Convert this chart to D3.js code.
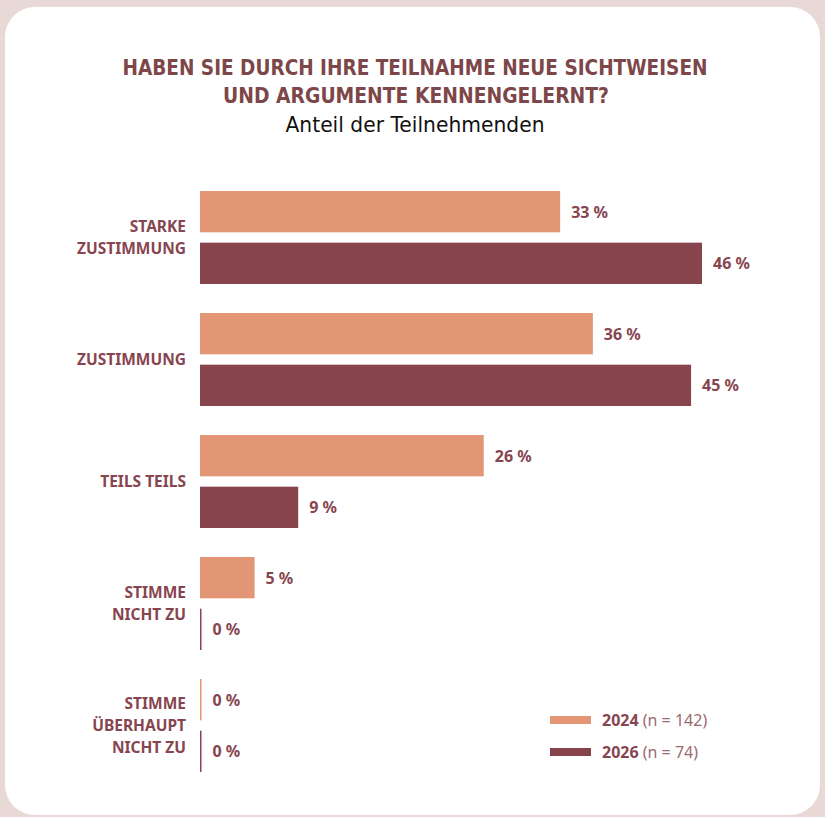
<!DOCTYPE html>
<html>
<head>
<meta charset="utf-8">
<script src="https://cdn.jsdelivr.net/npm/d3@7"></script>
<style>
  body { margin: 0; background: #e8d9d6; }
</style>
</head>
<body>
<div id="chart"></div>
<script>
// chart data
var categories = [["STARKE", "ZUSTIMMUNG"], ["ZUSTIMMUNG"], ["TEILS TEILS"], ["STIMME", "NICHT ZU"], ["STIMME", "ÜBERHAUPT", "NICHT ZU"]];
var values_2024 = [33, 36, 26, 5, 0];
var values_2026 = [46, 45, 9, 0, 0];
var series_names = ["2024", "2026"];
var series_n = ["(n = 142)", "(n = 74)"];

const total_width = 825
const total_height = 817
const colors = ["#e29676", "#87444d"]
const text_color = "#874550"

var svg = d3.select("#chart").append("svg").attr("width", total_width).attr("height", total_height);

// card
svg.append("rect").attr("x", 5).attr("y", 7).attr("width", 815).attr("height", 808).attr("rx", 30).attr("ry", 30).style("fill", "#ffffff");

// title (condensed look via textLength, no narrow font installed)
var title = svg.append("g").attr("text-anchor", "middle").style("font-family", "'DejaVu Sans', sans-serif").style("font-weight", "bold").style("font-size", "22px").style("fill", "#7d4649");
title.append("text").attr("x", 415).attr("y", 75).attr("textLength", 585).attr("lengthAdjust", "spacingAndGlyphs").text("HABEN SIE DURCH IHRE TEILNAHME NEUE SICHTWEISEN");
title.append("text").attr("x", 416).attr("y", 103).attr("textLength", 386).attr("lengthAdjust", "spacingAndGlyphs").text("UND ARGUMENTE KENNENGELERNT?");
svg.append("text").attr("text-anchor", "middle").attr("x", 415).attr("y", 132).attr("textLength", 259).attr("lengthAdjust", "spacingAndGlyphs")
  .style("font-family", "'DejaVu Sans', sans-serif").style("font-size", "21px").style("fill", "#111").text("Anteil der Teilnehmenden");

// scales
var x = d3.scaleLinear().domain([0, 46]).range([200, 702]);
var y = d3.scaleBand().domain(d3.range(categories.length)).range([186, 796]).paddingInner(0).paddingOuter(0);
var inner = d3.scaleBand().domain([0, 1]).range([5, 98]).paddingInner(0.2);

var groups = svg.selectAll(".group").data(categories).enter().append("g").attr("class", "group")
  .attr("transform", function(d, i) { return "translate(0," + y(i) + ")"; });

groups.each(function(cat, i) {
  var g = d3.select(this);
  var vals = [values_2024[i], values_2026[i]];
  vals.forEach(function(v, s) {
    var w = x(v) - x(0);
    g.append("rect").attr("x", x(0)).attr("y", inner(s)).attr("width", Math.max(w, 1.5)).attr("height", inner.bandwidth()).style("fill", colors[s]);
    g.append("text").attr("x", x(0) + Math.max(w, 1.5) + 11).attr("y", inner(s) + inner.bandwidth() / 2).attr("dy", "0.38em")
      .style("font-family", "'Noto Sans', sans-serif").style("font-weight", "bold").style("font-size", "16px").style("fill", text_color)
      .text(v + " %");
  });
  var mid = (inner(0) + inner(1) + inner.bandwidth()) / 2;
  var lab = g.append("text").attr("text-anchor", "end").style("font-family", "'Noto Sans', sans-serif").style("font-weight", "bold").style("font-size", "15.5px").style("fill", text_color);
  cat.forEach(function(line, k) {
    lab.append("tspan").attr("x", 186).attr("y", mid + (k - (cat.length - 1) / 2) * 22).attr("dy", "0.36em").text(line);
  });
});

// legend
var legend = svg.selectAll(".legend").data(series_names).enter().append("g").attr("class", "legend")
  .attr("transform", function(d, i) { return "translate(550," + (720 + i * 32) + ")"; });
legend.append("rect").attr("x", 0).attr("y", -4).attr("width", 41).attr("height", 8).style("fill", function(d, i) { return colors[i]; });
var lt = legend.append("text").attr("x", 52).attr("y", 0).attr("dy", "0.36em").style("font-family", "'Noto Sans', sans-serif").style("font-size", "16px").style("fill", text_color);
lt.append("tspan").style("font-weight", "bold").text(function(d) { return d; });
lt.append("tspan").style("fill", "#9a6a70").text(function(d, i) { return " " + series_n[i]; });
</script>
</body>
</html>
